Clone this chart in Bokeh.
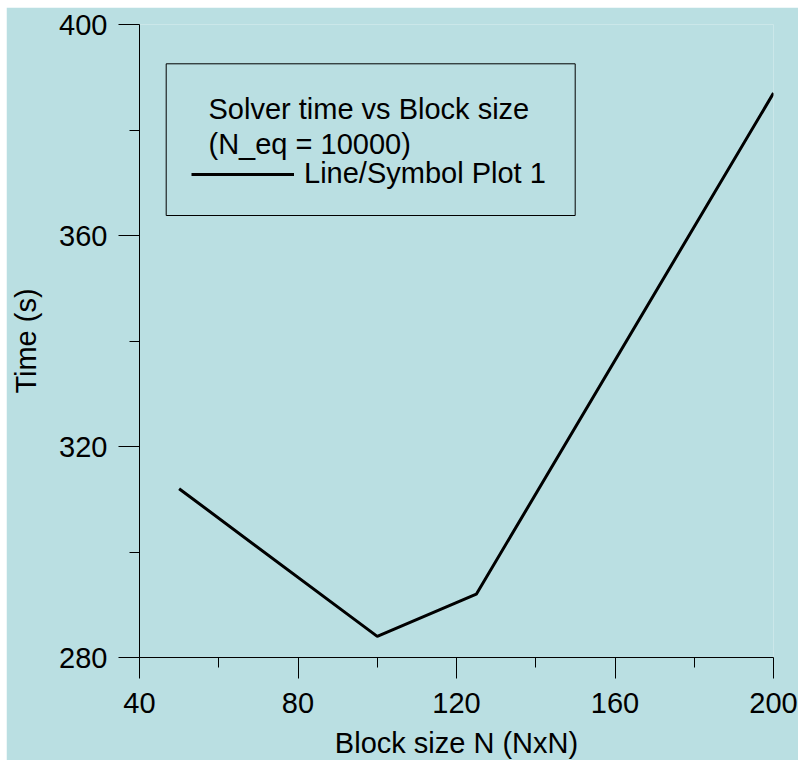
from bokeh.plotting import figure
from bokeh.models import (Range1d, FixedTicker, BoxAnnotation, Label, Legend, LegendItem)
from bokeh.embed import file_html
from bokeh.resources import INLINE

# ---- data ----
block_size = [50, 100, 125, 200]
solver_time = [312, 284, 292, 387]
x_ticks = [40, 80, 120, 160, 200]
x_minor = [60, 100, 140, 180]
y_ticks = [280, 320, 360, 400]
y_minor = [300, 340, 380]
title_lines = ["Solver time vs Block size", "(N_eq = 10000)"]
series_name = "Line/Symbol Plot 1"
x_label = "Block size N (NxN)"
y_label = "Time (s)"

BG = "#BADFE2"
FONT = "Liberation Sans"
FS = "29px"

X0, X1 = 40, 200
Y0, Y1 = 280, 400
FW, FH = 634, 633

p = figure(frame_width=FW, frame_height=FH,
           x_range=Range1d(X0, X1), y_range=Range1d(Y0, Y1),
           output_backend="svg", toolbar_location=None,
           min_border_left=133, min_border_right=25,
           min_border_top=17, min_border_bottom=103,
           background_fill_color=BG, border_fill_color=BG,
           outline_line_color=None)
p.margin = (7, 2, 0, 6)
p.grid.visible = False

r = p.line(block_size, solver_time, line_color="black", line_width=3)

for ax, ticks, minor in ((p.xaxis[0], x_ticks, x_minor), (p.yaxis[0], y_ticks, y_minor)):
    ax.ticker = FixedTicker(ticks=ticks, minor_ticks=minor)
    ax.major_tick_out = 21
    ax.major_tick_in = 0
    ax.minor_tick_out = 10
    ax.minor_tick_in = 0
    ax.axis_line_color = "black"
    ax.major_tick_line_color = "black"
    ax.minor_tick_line_color = "black"
    ax.major_label_text_font = FONT
    ax.major_label_text_font_size = FS
    ax.major_label_text_color = "black"
    ax.axis_label_text_font = FONT
    ax.axis_label_text_font_size = FS
    ax.axis_label_text_font_style = "normal"
    ax.axis_label_text_color = "black"

p.xaxis.axis_label = x_label
p.yaxis.axis_label = y_label
p.xaxis.major_label_standoff = 14
p.xaxis.axis_label_standoff = 11
p.yaxis.major_label_standoff = 11
p.yaxis.major_label_orientation = "horizontal"
p.yaxis.axis_label_standoff = 14


def dx(px):
    return X0 + px * (X1 - X0) / FW


def dy(py):
    return Y1 - py * (Y1 - Y0) / FH


# legend frame
p.add_layout(BoxAnnotation(left=dx(26.7), right=dx(435.7), top=dy(39.3), bottom=dy(191),
                           fill_alpha=0, line_color="black", line_alpha=1, line_width=1))
for i, t in enumerate(title_lines):
    p.add_layout(Label(x=dx(69), y=dy([84, 119][i]), text=t, text_font=FONT,
                       text_font_size=FS, text_color="black", text_baseline="alphabetic"))

legend = Legend(items=[LegendItem(label=series_name, renderers=[r])],
                location=(52, 467), glyph_width=103, glyph_height=20,
                label_standoff=10, label_text_font=FONT, label_text_font_size=FS,
                label_text_color="black", padding=0, margin=0, spacing=0,
                background_fill_alpha=0, border_line_alpha=0)
p.add_layout(legend)

open("out.html", "w").write(file_html(p, INLINE))
